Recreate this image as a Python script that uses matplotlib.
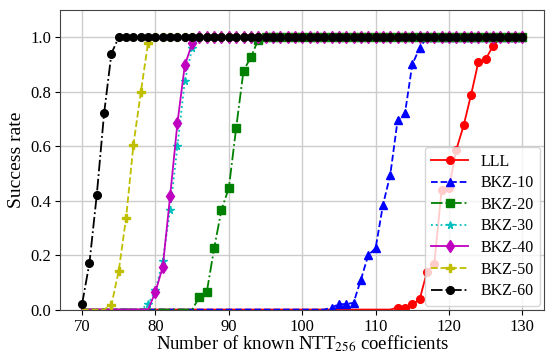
import numpy as np
import matplotlib
matplotlib.use("Agg")
import matplotlib.pyplot as plt

plt.rcParams['font.family'] = ['Liberation Serif', 'DejaVu Serif']
plt.rcParams['mathtext.fontset'] = 'stix'

x = list(range(70, 131))

def series(points, full_from):
    vals = []
    for xi in x:
        if xi in points:
            vals.append(points[xi])
        elif xi >= full_from:
            vals.append(1.0)
        else:
            vals.append(0.0)
    return vals

lll_pts = {113: 0.007, 114: 0.007, 115: 0.02, 116: 0.037, 117: 0.138, 118: 0.167,
           119: 0.44, 120: 0.446, 121: 0.587, 122: 0.676, 123: 0.787, 124: 0.908,
           125: 0.919, 126: 0.968}
bkz10_pts = {104: 0.007, 105: 0.02, 106: 0.02, 107: 0.025, 108: 0.11, 109: 0.2,
             110: 0.225, 111: 0.383, 112: 0.495, 113: 0.695, 114: 0.72, 115: 0.9,
             116: 0.96}
bkz20_pts = {86: 0.046, 87: 0.065, 88: 0.225, 89: 0.367, 90: 0.446, 91: 0.667,
             92: 0.877, 93: 0.926, 94: 0.99}
bkz30_pts = {79: 0.02, 80: 0.07, 81: 0.18, 82: 0.367, 83: 0.6, 84: 0.84, 85: 0.96}
bkz40_pts = {80: 0.065, 81: 0.157, 82: 0.417, 83: 0.686, 84: 0.897, 85: 0.977}
bkz50_pts = {74: 0.017, 75: 0.143, 76: 0.337, 77: 0.605, 78: 0.797, 79: 0.98}
bkz60_pts = {70: 0.02, 71: 0.17, 72: 0.42, 73: 0.72, 74: 0.94}

lll = series(lll_pts, 127)
bkz10 = series(bkz10_pts, 117)
bkz20 = series(bkz20_pts, 95)
bkz30 = series(bkz30_pts, 86)
bkz40 = series(bkz40_pts, 86)
bkz50 = series(bkz50_pts, 80)
bkz60 = series(bkz60_pts, 75)

labels = ['LLL', 'BKZ-10', 'BKZ-20', 'BKZ-30', 'BKZ-40', 'BKZ-50', 'BKZ-60']
styles = [('r', '-', 'o', 5.5), ('b', '--', '^', 5.5), ('g', '-.', 's', 5.5),
          ('c', ':', '*', 5.5), ('m', '-', 'd', 6.5), ('y', '--', 'P', 5.5),
          ('k', '-.', 'o', 5.5)]
data = [lll, bkz10, bkz20, bkz30, bkz40, bkz50, bkz60]

fig = plt.figure(figsize=(5.46, 3.55), dpi=100)
ax = fig.add_axes([0.110, 0.128, 0.887, 0.844])

for vals, lab, (c, ls, mk, ms) in zip(data, labels, styles):
    v = np.array(vals)
    ax.plot(x, v, color=c, linestyle=ls, marker=mk, markersize=ms,
            linewidth=1.3, markevery=list(v > 0), label=lab)

ax.set_xlim(67.0, 133.0)
ax.set_ylim(0, 1.1)
ax.set_xticks([70, 80, 90, 100, 110, 120, 130])
ax.set_yticks([0.0, 0.2, 0.4, 0.6, 0.8, 1.0])
ax.tick_params(labelsize=12, pad=3)
ax.grid(True, color='#cccccc', linewidth=1)
ax.set_axisbelow(True)
for s in ax.spines.values():
    s.set_color('#444444')
ax.set_xlabel('Number of known NTT$_{256}$ coefficients', fontsize=13.5, labelpad=-1)
ax.set_ylabel('Success rate', fontsize=14)
ax.legend(loc='lower right', fontsize=11.5, handlelength=2.3, borderaxespad=0.25,
          labelspacing=0.35)

fig.savefig('out.png', dpi=100)
